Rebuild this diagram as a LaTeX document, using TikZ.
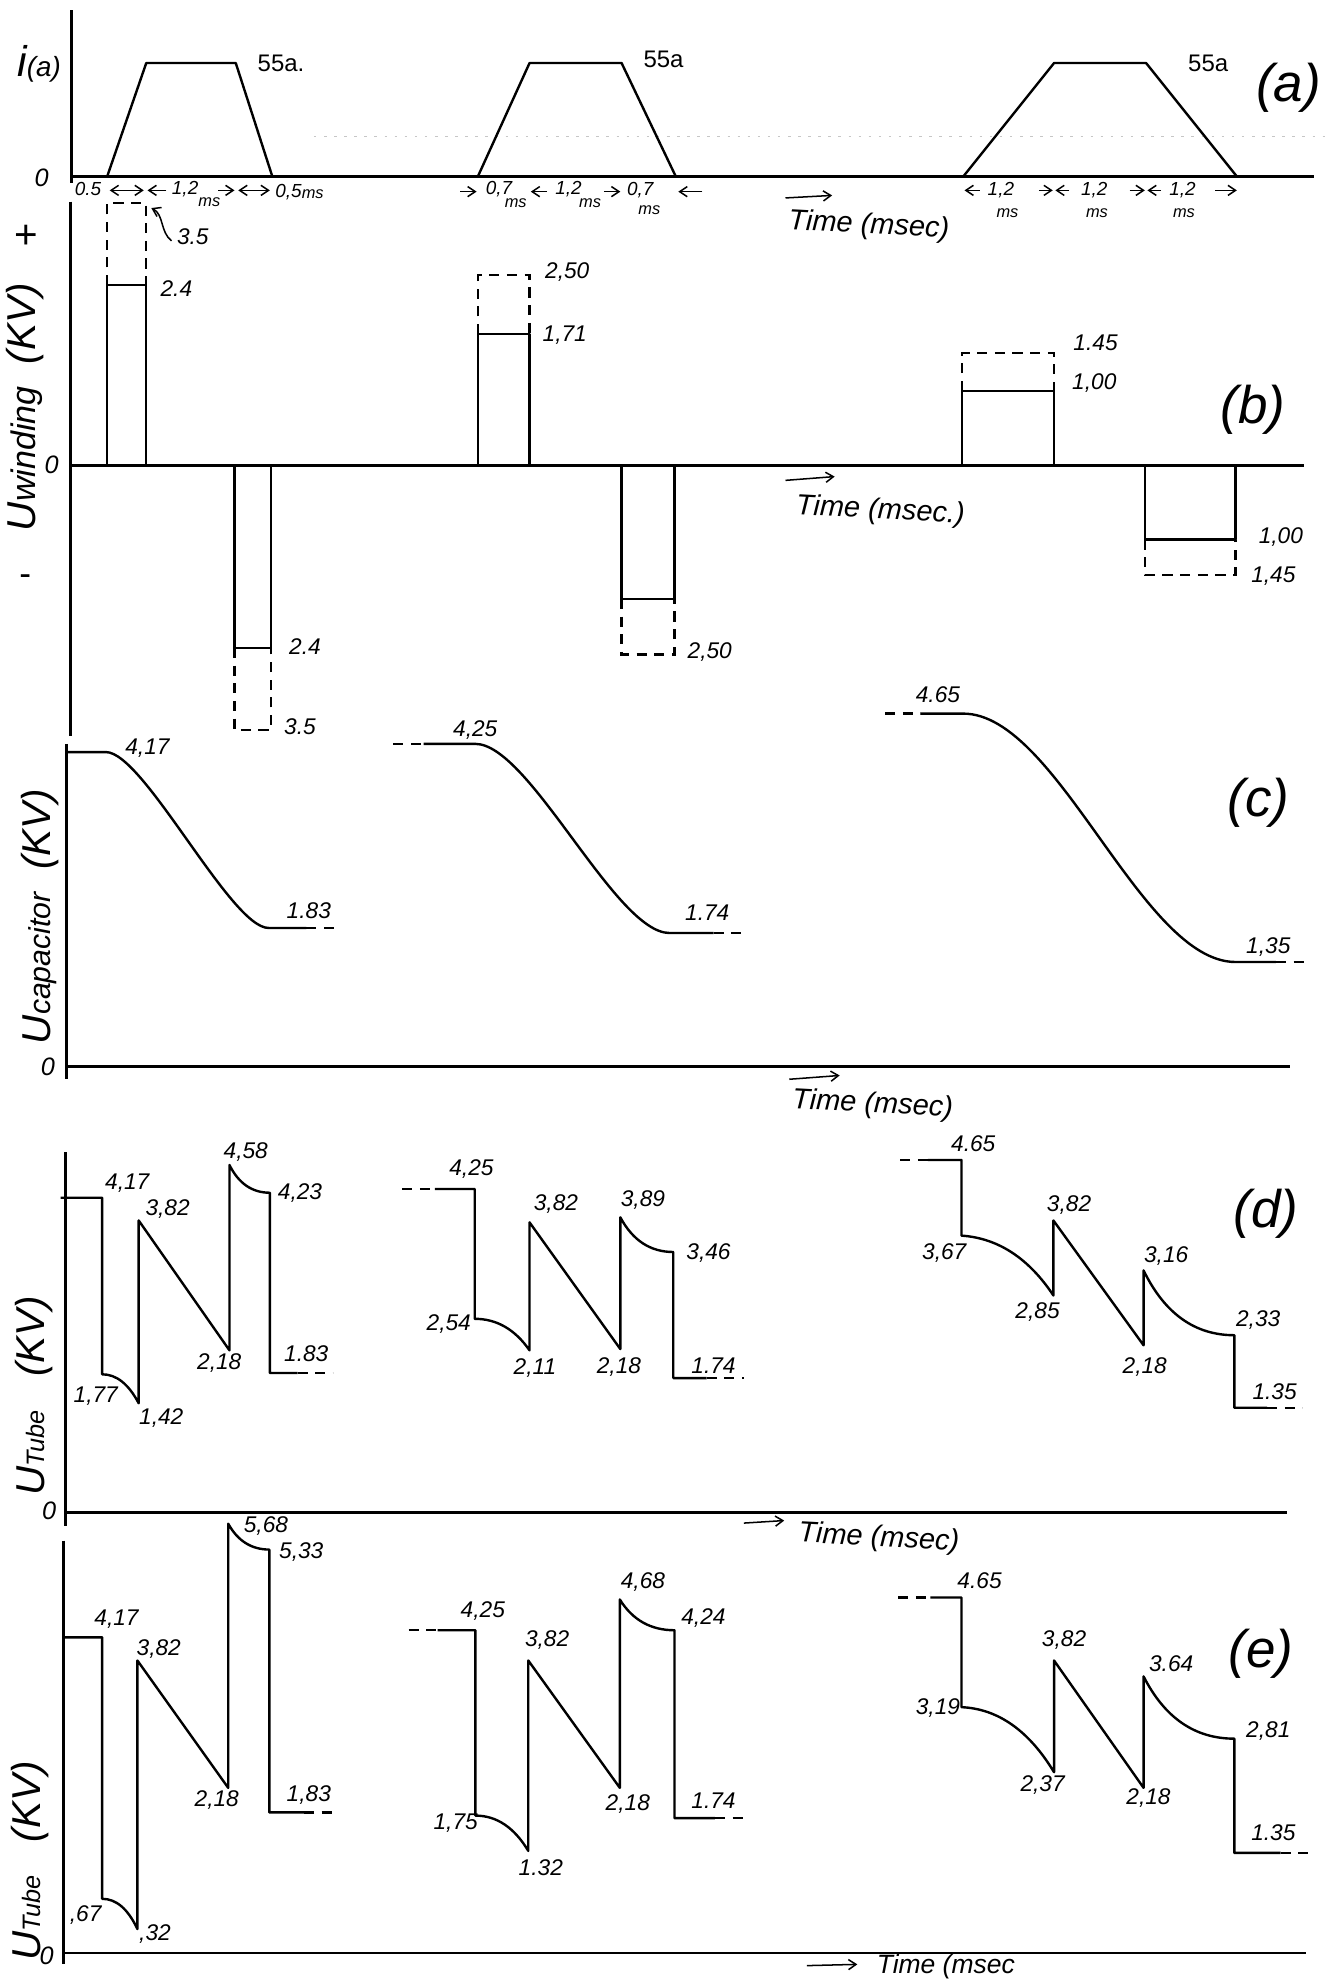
\documentclass[tikz,border=0pt]{standalone}
\usepackage{fontspec}
\setmainfont{Liberation Sans}
\newfontfamily\hw{Liberation Sans}
\usetikzlibrary{arrows.meta}
\tikzset{
  ax/.style={line width=1.15pt},
  tr/.style={line width=0.95pt, line join=round},
  dsh/.style={line width=0.95pt, dash pattern=on 4pt off 3pt},
  faint/.style={gray!45, line width=0.4pt, dash pattern=on 1pt off 3pt},
  lb/.style={font=\hw\itshape\fontsize{9}{9}\selectfont, inner sep=0pt, anchor=west},
  lbs/.style={font=\hw\itshape\fontsize{7.5}{7.5}\selectfont, inner sep=0pt, anchor=west},
  sm/.style={font=\hw\itshape\fontsize{6.5}{6.5}\selectfont, inner sep=0pt, anchor=west},
  up/.style={font=\hw\fontsize{9.5}{9.5}\selectfont, inner sep=0pt, anchor=west},
  big/.style={font=\hw\itshape\fontsize{21}{21}\selectfont, inner sep=0pt, anchor=center},
  tm/.style={font=\hw\itshape\fontsize{11.5}{11.5}\selectfont, inner sep=0pt, anchor=west, rotate=-3},
  rot/.style={font=\hw\itshape\fontsize{16}{16}\selectfont, inner sep=0pt, anchor=center, rotate=90},
  zero/.style={font=\hw\itshape\fontsize{10}{10}\selectfont, inner sep=0pt, anchor=center},
  arr/.style={line width=0.6pt, -{Straight Barb[length=3pt,width=4pt]}},
  arrr/.style={line width=0.6pt, {Straight Barb[length=3pt,width=4pt]}-{Straight Barb[length=3pt,width=4pt]}},
}
\newcommand\mylab[3]{\node[lb] (#1) at (#2) {#3};}
\begin{document}
\begin{tikzpicture}[x=0.5pt,y=-0.5pt]
\fill[white] (0,0) rectangle (1056,1572);
\useasboundingbox (0,0) rectangle (1056,1572);

% ---------------- panel (a)
\draw[ax] (57,8) -- (57,145);
\draw[ax] (57,140) -- (1042,140);
\draw[faint] (249,108) -- (1056,108);
\node[zero] (a0) at (33,141) {0};
\node[anchor=center,inner sep=0pt,font=\hw\itshape] (ai) at (31,51) {{\fontsize{17}{17}\selectfont i}{\fontsize{11}{11}\selectfont(a)}};
\draw[tr] (85,140) -- (116,50) -- (187,50) -- (216,140);
\draw[tr] (379,140) -- (420,50) -- (493,50) -- (536,140);
\draw[tr] (764,140) -- (836,50) -- (909,50) -- (981,140);
\node[up] (a55a) at (204,50) {55a.};
\node[up] (a55b) at (510,47) {55a};
\node[up] (a55c) at (942,50) {55a};
\node[big] (alab) at (1022,70) {(a)};
% row 1
\node[lbs] (r1a) at (59,150) {0.5};
\draw[arrr] (87,151) -- (114,151);
\draw[arr] (132,151) -- (117,151);
\node[lbs] (r1b) at (136,150) {1,2};
\node[sm] (r1c) at (157,160) {ms};
\draw[arr] (173,151) -- (186,151);
\draw[arrr] (189,151) -- (214,151);
\node[lbs] (r1d) at (218,152) {0,5};
\node[sm] (r1e) at (239,154) {ms};
% row 2
\draw[arr] (365,152) -- (378,152);
\node[lbs] (r2a) at (385,150) {0,7};
\node[sm] (r2b) at (400,161) {ms};
\draw[arr] (434,152) -- (421,152);
\node[lbs] (r2c) at (440,150) {1,2};
\node[sm] (r2d) at (459,161) {ms};
\draw[arr] (479,152) -- (492,152);
\node[lbs] (r2e) at (497,151) {0,7};
\node[sm] (r2f) at (506,167) {ms};
\draw[arr] (557,152) -- (538,152);
% row 3
\draw[arr] (777,151) -- (765,151);
\node[lbs] (r3a) at (783,151) {1,2};
\node[sm] (r3b) at (790,169) {ms};
\draw[arr] (824,151) -- (835,151);
\draw[arr] (848,151) -- (837,151);
\node[lbs] (r3c) at (857,151) {1,2};
\node[sm] (r3d) at (861,169) {ms};
\draw[arr] (896,151) -- (908,151);
\draw[arr] (921,151) -- (910,151);
\node[lbs] (r3e) at (927,151) {1,2};
\node[sm] (r3f) at (930,169) {ms};
\draw[arr] (964,151) -- (981,151);
% time label (a)
\coordinate (ta1) at (623,157);
\coordinate (ta2) at (660,155);
\draw[arr] (ta1) -- (ta2);
\node[tm] (ta) at (625,176) {Time (msec)};

% ---------------- panel (b)
\draw[ax] (56,160) -- (56,584);
\draw[ax] (56,369) -- (1034,369);
\node[zero] (b0) at (41,369) {0};
\node[font=\hw\fontsize{16}{16}\selectfont, inner sep=0pt] (bplus) at (21,188) {+};
\node[font=\hw\fontsize{14}{14}\selectfont, inner sep=0pt] (bminus) at (20,460) {-};
\node[rot] (blab) at (20,323) {U{\fontsize{13.5}{13.5}\selectfont winding}\ \ (KV)};
% bars
\draw[tr] (85,369) -- (85,226) -- (116,226) -- (116,369);
\draw[dsh] (85,226) -- (85,161) -- (116,161) -- (116,226);
\draw[tr] (186,369) -- (186,514) -- (215,514) -- (215,369);
\draw[dsh] (186,514) -- (186,579) -- (215,579) -- (215,514);
\draw[tr] (379,369) -- (379,265) -- (420,265) -- (420,369);
\draw[dsh] (379,265) -- (379,218) -- (420,218) -- (420,265);
\draw[tr] (493,369) -- (493,475) -- (535,475) -- (535,369);
\draw[dsh] (493,475) -- (493,519) -- (535,519) -- (535,475);
\draw[tr] (763,369) -- (763,310) -- (836,310) -- (836,369);
\draw[dsh] (763,310) -- (763,280) -- (836,280) -- (836,310);
\draw[tr] (908,369) -- (908,428) -- (980,428) -- (980,369);
\draw[dsh] (908,428) -- (908,456) -- (980,456) -- (980,428);
% labels
\coordinate (c35a) at (136,191);
\coordinate (c35b) at (120,165);
\draw[arr] (c35a) .. controls (127,184) and (130,170) .. (c35b);
\mylab{b1}{140,188}{3.5}
\mylab{b2}{127,229}{2.4}
\mylab{b3}{229,513}{2.4}
\mylab{b4}{225,576}{3.5}
\mylab{b5}{432,216}{2,50}
\mylab{b6}{430,266}{1,71}
\mylab{b7}{545,517}{2,50}
\mylab{b8}{851,272}{1.45}
\mylab{b9}{850,304}{1,00}
\mylab{b10}{998,426}{1,00}
\mylab{b11}{992,457}{1,45}
\coordinate (tb1) at (623,381);
\coordinate (tb2) at (662,378);
\draw[arr] (tb1) -- (tb2);
\node[tm] (tb) at (631,402) {Time (msec.)};
\node[big] (blb) at (994,325) {(b)};

% ---------------- panel (c)
\draw[ax] (53,590) -- (53,856);
\draw[ax] (53,846) -- (1023,846);
\node[zero] (c0) at (38,846) {0};
\node[rot] (clab) at (32,727) {U{\fontsize{12}{12}\selectfont capacitor}\ \ (KV)};
\draw[tr] (53,596.5) -- (84,596.5) .. controls (114,596.5) and (183,736) .. (213,736) -- (243,736);
\draw[dsh] (243,736) -- (268,736);
\draw[dsh] (312,590) -- (336,590);
\draw[tr] (336,590) -- (377,590) .. controls (420,590) and (488,740) .. (531,740) -- (566,740);
\draw[dsh] (566,740) -- (592,740);
\draw[dsh] (702,566) -- (730,566);
\draw[tr] (730,566) -- (764,566) .. controls (839,566) and (905,763) .. (980,763) -- (1012,763);
\draw[dsh] (1012,763) -- (1036,763);
\mylab{c1}{99,593}{4,17}
\mylab{c2}{227,722}{1.83}
\mylab{c3}{359,579}{4,25}
\mylab{c4}{543,724}{1.74}
\mylab{c5}{726,551}{4.65}
\mylab{c6}{988,751}{1,35}
\node[big] (clb) at (998,637) {(c)};
\coordinate (tc1) at (626,856);
\coordinate (tc2) at (666,853);
\draw[arr] (tc1) -- (tc2);
\node[tm] (tc) at (628,873) {Time (msec)};

% ---------------- panel (d)
\draw[ax] (52,914) -- (52,1210);
\draw[ax] (52,1199.5) -- (1021,1199.5);
\node[zero] (d0) at (39,1198) {0};
\node[rot] (dlab) at (27,1107) {U{\fontsize{10}{10}\selectfont Tube}\ \ \ (KV)};
\draw[tr] (48,950) -- (81,950) -- (81,1090) .. controls (92.3,1090) and (102,1097.7) .. (110,1113) -- (110,968) -- (182,1071) -- (182,924) .. controls (189.3,938.7) and (200,946) .. (214,946) -- (214,1089) -- (236,1089);
\draw[dsh] (236,1089) -- (264,1089);
\mylab{d1}{83,938}{4,17}
\mylab{d2}{115,959}{3,82}
\mylab{d3}{177,914}{4,58}
\mylab{d4}{220,946}{4,23}
\mylab{d5}{58,1107}{1,77}
\mylab{d6}{110,1125}{1,42}
\mylab{d7}{156,1081}{2,18}
\mylab{d8}{225,1074}{1.83}
\draw[dsh] (319,943) -- (345,943);
\draw[tr] (345,943) -- (376.5,943) -- (376.5,1046) .. controls (393.9,1046) and (408.4,1054.3) .. (420,1071) -- (420,969.5) -- (492,1070) -- (492,965.5) .. controls (501.8,983.8) and (515.8,993) .. (534,993) -- (534,1093) -- (560.5,1093);
\draw[dsh] (560.5,1093) -- (590,1093);
\mylab{d9}{356,927}{4,25}
\mylab{d10}{338,1050}{2,54}
\mylab{d11}{423,955}{3,82}
\mylab{d12}{407,1085}{2,11}
\mylab{d13}{492,952}{3,89}
\mylab{d14}{473,1084}{2,18}
\mylab{d15}{544,994}{3,46}
\mylab{d16}{548,1083}{1.74}
\draw[dsh] (714,920) -- (736,920);
\draw[tr] (736,920) -- (762.6,920) -- (762.6,980) .. controls (791.5,982) and (815.8,997.8) .. (835.5,1027.5) -- (835.5,968) -- (907,1067) -- (907,1007.6) .. controls (923.7,1041.9) and (947.7,1059) .. (979,1059) -- (979,1116.5) -- (1005,1116.5);
\draw[dsh] (1005,1116.5) -- (1033,1116.5);
\mylab{d17}{754,907}{4.65}
\mylab{d18}{731,994}{3,67}
\mylab{d19}{830,956}{3,82}
\mylab{d20}{805,1041}{2,85}
\mylab{d21}{907,996}{3,16}
\mylab{d22}{890,1084}{2,18}
\mylab{d23}{980,1047}{2,33}
\mylab{d24}{993,1104}{1.35}
\node[big] (dlb) at (1004,963) {(d)};
\coordinate (td1) at (590,1208);
\coordinate (td2) at (622,1206);
\draw[arr] (td1) -- (td2);
\node[tm] (td) at (633,1217) {Time (msec)};

% ---------------- panel (e)
\draw[ax] (50.6,1222) -- (50.6,1558);
\draw[ax] (50.6,1549) -- (1036,1549);
\node[zero] (e0) at (37,1551) {0};
\node[rot] (elab) at (24,1476) {U{\fontsize{10}{10}\selectfont Tube}\ \ \ (KV)};
\draw[tr] (50.6,1298.6) -- (81,1298.6) -- (81,1506) .. controls (92.2,1506) and (101.5,1514) .. (109,1530) -- (109,1317) -- (181,1418) -- (181,1208.5) .. controls (188.6,1222.2) and (199.5,1229) .. (213.6,1229) -- (213.6,1437.5) -- (241,1437.5);
\draw[dsh] (241,1437.5) -- (266,1437.5);
\mylab{e1}{74.5,1284}{4,17}
\mylab{e2}{108,1308}{3,82}
\mylab{e3}{193,1210}{5,68}
\mylab{e4}{221,1231}{5,33}
\mylab{e5}{154,1428}{2,18}
\mylab{e6}{227,1424}{1,83}
\mylab{e7}{55,1519}{,67}
\mylab{e8}{110,1534}{,32}
\draw[dsh] (324,1293) -- (347,1293);
\draw[tr] (347,1293) -- (377,1293) -- (377,1440) .. controls (393.8,1440) and (407.8,1449.3) .. (419,1468) -- (419,1317) -- (491.6,1418) -- (491.6,1268.6) .. controls (501.7,1284.9) and (516.2,1293) .. (535,1293) -- (535,1442) -- (567,1442);
\draw[dsh] (567,1442) -- (590,1442);
\mylab{e9}{365,1277.5}{4,25}
\mylab{e10}{416,1301}{3,82}
\mylab{e11}{492,1255}{4,68}
\mylab{e12}{540,1283}{4,24}
\mylab{e13}{343.5,1445.6}{1,75}
\mylab{e14}{411,1481}{1.32}
\mylab{e15}{480,1431}{2,18}
\mylab{e16}{548,1428}{1.74}
\draw[dsh] (712.5,1267) -- (738,1267);
\draw[tr] (738,1267) -- (762.6,1267) -- (762.6,1354) .. controls (791.5,1355.3) and (816,1372.5) .. (836,1405.6) -- (836,1317) -- (907,1418) -- (907,1329.6) .. controls (923.7,1362.5) and (947.7,1379) .. (979,1379) -- (979,1469.6) -- (1015.6,1469.6);
\draw[dsh] (1015.6,1469.6) -- (1043,1469.6);
\mylab{e17}{759,1253.6}{4.65}
\mylab{e18}{726,1355}{3,19}
\mylab{e19}{826,1301}{3,82}
\mylab{e20}{809,1416}{2,37}
\mylab{e21}{911,1319.6}{3.64}
\mylab{e22}{893,1426}{2,18}
\mylab{e23}{988,1372.6}{2,81}
\mylab{e24}{992,1453.5}{1.35}
\node[big] (elb) at (1000,1312) {(e)};
\coordinate (te1) at (640,1559);
\coordinate (te2) at (680,1558);
\draw[arr] (te1) -- (te2);
\node[font=\hw\itshape\fontsize{10.5}{10.5}\selectfont, inner sep=0pt, anchor=west] (te) at (695,1560) {Time (msec};
\end{tikzpicture}
\end{document}
